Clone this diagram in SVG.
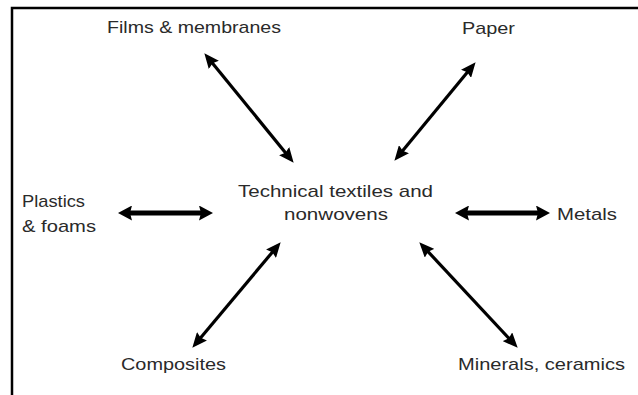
<svg xmlns="http://www.w3.org/2000/svg" width="638" height="395" viewBox="0 0 638 395">
  <style>
    .lbl { font-family: "Liberation Sans", Arial, sans-serif; font-size: 17px; fill: #2a2a2a; }
    .frame { stroke: #000; stroke-width: 2.5; fill: none; }
    .diag { stroke: #000; stroke-width: 3.2; fill: none; marker-start: url(#headD); marker-end: url(#headD); }
    .horiz { stroke: #000; stroke-width: 5; fill: none; marker-start: url(#headH); marker-end: url(#headH); }
  </style>
  <defs>
    <marker id="headD" viewBox="0 0 15 13" refX="4" refY="6.5" markerWidth="15" markerHeight="13" markerUnits="userSpaceOnUse" orient="auto-start-reverse">
      <path d="M0,0 L15,6.5 L0,13 L2,6.5 z" fill="#000"/>
    </marker>
    <marker id="headH" viewBox="0 0 14 15" refX="4" refY="7.5" markerWidth="14" markerHeight="15" markerUnits="userSpaceOnUse" orient="auto-start-reverse">
      <path d="M0,0 L14,7.5 L0,15 L2,7.5 z" fill="#000"/>
    </marker>
  </defs>
  <rect width="638" height="395" fill="#fff"/>
  <g id="frame">
    <path class="frame" d="M12,395 V8 H638"/>
  </g>
  <g id="connectors">
    <line class="diag" x1="211.3" y1="61.8" x2="286.7" y2="154.2"/>
    <line class="diag" x1="468.6" y1="70.7" x2="401.4" y2="152.3"/>
    <line class="diag" x1="273.6" y1="250.7" x2="199.4" y2="339.3"/>
    <line class="diag" x1="426.8" y1="250.3" x2="510.2" y2="339.7"/>
    <line class="horiz" x1="128" y1="213" x2="203" y2="213"/>
    <line class="horiz" x1="465" y1="213" x2="540" y2="213"/>
  </g>
  <g id="center">
    <text class="lbl" x="238" y="197" textLength="195" lengthAdjust="spacingAndGlyphs">Technical textiles and</text>
    <text class="lbl" x="284" y="220" textLength="104" lengthAdjust="spacingAndGlyphs">nonwovens</text>
  </g>
  <g id="films">
    <text class="lbl" x="107" y="33" textLength="174" lengthAdjust="spacingAndGlyphs">Films &amp; membranes</text>
  </g>
  <g id="paper">
    <text class="lbl" x="462" y="34" textLength="53" lengthAdjust="spacingAndGlyphs">Paper</text>
  </g>
  <g id="plastics">
    <text class="lbl" x="22" y="207" textLength="63" lengthAdjust="spacingAndGlyphs">Plastics</text>
    <text class="lbl" x="22" y="232" textLength="74" lengthAdjust="spacingAndGlyphs">&amp; foams</text>
  </g>
  <g id="metals">
    <text class="lbl" x="557" y="220" textLength="60" lengthAdjust="spacingAndGlyphs">Metals</text>
  </g>
  <g id="composites">
    <text class="lbl" x="121" y="370" textLength="105" lengthAdjust="spacingAndGlyphs">Composites</text>
  </g>
  <g id="minerals">
    <text class="lbl" x="458" y="370" textLength="167" lengthAdjust="spacingAndGlyphs">Minerals, ceramics</text>
  </g>
</svg>
